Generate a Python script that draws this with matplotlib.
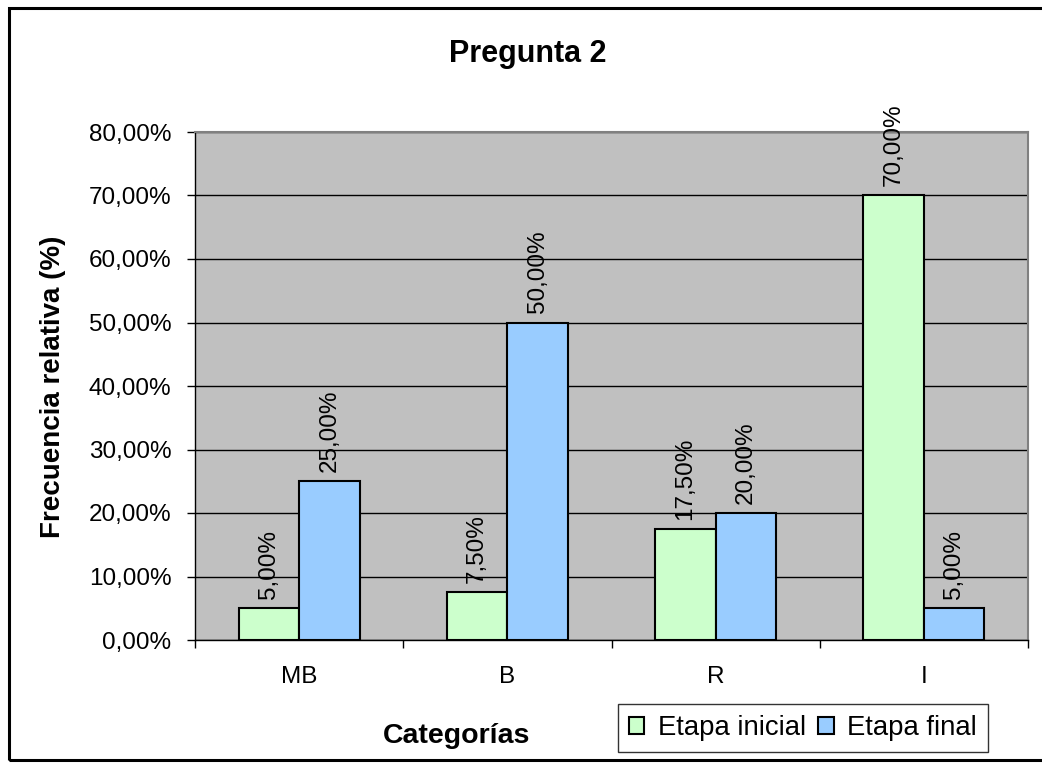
import matplotlib
matplotlib.use('Agg')
import matplotlib.pyplot as plt
from matplotlib.patches import Rectangle
from matplotlib.ticker import FuncFormatter, FixedLocator
import numpy as np

plt.rcParams['font.family'] = ['Liberation Sans', 'DejaVu Sans']

# --- DATA ---
categorias = ['MB', 'B', 'R', 'I']
etapa_inicial = [5.0, 7.5, 17.5, 70.0]
etapa_final = [25.0, 50.0, 20.0, 5.0]
series_names = ['Etapa inicial', 'Etapa final']

# --- STYLE ---
GREEN = '#CCFFCC'
BLUE = '#99CCFF'
PLOT_BG = '#C0C0C0'


def pct(v):
    return f'{v:.2f}'.replace('.', ',') + '%'


W, H = 1042, 764
fig = plt.figure(figsize=(W / 100, H / 100), dpi=100)
fig.patch.set_facecolor('white')

# plot area in pixel coordinates
left, right, top, bottom = 195, 1028, 132, 640
ax = fig.add_axes([left / W, 1 - bottom / H, (right - left) / W, (bottom - top) / H])
ax.set_facecolor(PLOT_BG)

x = np.arange(len(categorias))
bw = 0.29
b1 = ax.bar(x - bw / 2, etapa_inicial, bw, color=GREEN, edgecolor='black',
            linewidth=1.5, label=series_names[0], zorder=3)
b2 = ax.bar(x + bw / 2, etapa_final, bw, color=BLUE, edgecolor='black',
            linewidth=1.5, label=series_names[1], zorder=3)

for bars, vals in ((b1, etapa_inicial), (b2, etapa_final)):
    for rect, v in zip(bars, vals):
        ax.annotate(pct(v), (rect.get_x() + rect.get_width() / 2, v),
                    xytext=(0, 6.5), textcoords='offset points',
                    rotation=90, ha='center', va='bottom', fontsize=17.5,
                    color='black', zorder=4, annotation_clip=False)

ax.set_xlim(-0.5, len(categorias) - 0.5)
ax.set_ylim(0, 80)
ax.set_yticks(np.arange(0, 81, 10))
ax.yaxis.set_major_formatter(FuncFormatter(lambda v, p: pct(v)))
ax.grid(axis='y', color='black', linewidth=1, zorder=1)
ax.set_axisbelow(True)

ax.set_xticks(x)
ax.set_xticklabels(categorias)
ax.xaxis.set_minor_locator(FixedLocator(np.arange(-0.5, len(categorias), 1)))
ax.tick_params(axis='x', which='major', length=0, pad=19, labelsize=17.5)
ax.tick_params(axis='x', which='minor', length=6, width=1, color='black', direction='out')
ax.tick_params(axis='y', length=6, width=1, color='black', direction='out',
               pad=11, labelsize=17.5)

for s in ('top', 'right'):
    ax.spines[s].set_color('#808080')
    ax.spines[s].set_linewidth(1.5)
for s in ('left', 'bottom'):
    ax.spines[s].set_color('black')
    ax.spines[s].set_linewidth(1)

# titles
fig.text(528 / W, 1 - 62 / H, 'Pregunta 2', ha='center', va='baseline',
         fontsize=22, fontweight='bold')
fig.text(53 / W, 1 - 387 / H, 'Frecuencia relativa (%)', ha='center', va='center',
         rotation=90, fontsize=20, fontweight='bold')
fig.text(457 / W, 1 - 743 / H, 'Categorías', ha='center', va='baseline',
         fontsize=20.5, fontweight='bold')

# legend
leg = fig.legend(handles=[b1, b2], loc='lower left',
                 bbox_to_anchor=(618 / W, 1 - 752 / H), borderaxespad=0,
                 ncol=2, fontsize=19.8, frameon=True, fancybox=False,
                 handlelength=0.55, handleheight=0.55, handletextpad=0.5,
                 columnspacing=0.45, borderpad=0.4)
leg.get_frame().set_edgecolor('black')
leg.get_frame().set_linewidth(1)

# chart border
fig.patches.append(Rectangle((9 / W, 1 - 760 / H), 1.2, (760 - 8) / H,
                             transform=fig.transFigure, fill=False,
                             edgecolor='black', linewidth=2.2))

fig.savefig('out.png', dpi=100, facecolor='white')
